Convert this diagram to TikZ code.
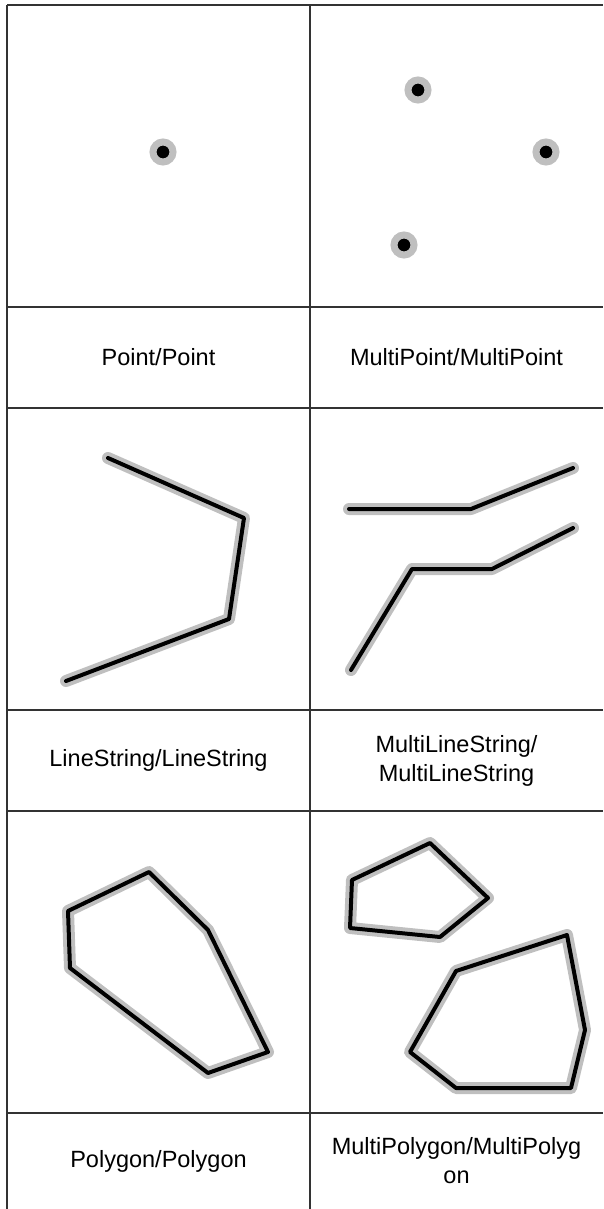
\documentclass[tikz,border=0pt]{standalone}
\usepackage{fontspec}
\setmainfont{Liberation Sans}
\usetikzlibrary{positioning}

\begin{document}
\begin{tikzpicture}[
  x=1pt, y=-1pt,
  every node/.style={font=\fontsize{23.5}{29}\selectfont},
  grid/.style={draw=black!80, line width=1.6pt},
  halo/.style={draw=black!25, line width=12pt, line cap=round, line join=round},
  geom/.style={draw=black, line width=4pt, line cap=round, line join=round},
  pt/.style={circle, fill=black, draw=black!25, line width=7pt, minimum size=20pt, inner sep=0pt},
  cell/.style={align=center, text width=300pt}
]
\useasboundingbox (0,0) rectangle (603,1209);

% table grid
\foreach \y in {5,307,408,710,811,1113}
  \draw[grid] (7,\y) -- (603,\y);
\foreach \x in {7,310}
  \draw[grid] (\x,5) -- (\x,1209);

% points
\node[pt] (point) at (163,152) {};
\node[pt] (mpointa) at (418,90) {};
\node[pt] (mpointb) at (546,152) {};
\node[pt] (mpointc) at (404,245) {};

% line strings and polygons: grey halo first, then the black line
\foreach \s in {halo,geom} {
  \draw[\s] (108,458) -- (244,518) -- (229,619) -- (66,681);
  \draw[\s] (349,509) -- (471,509) -- (573,468);
  \draw[\s] (351,670) -- (412,569) -- (492,569) -- (573,528);
  \draw[\s] (149,872) -- (208,930) -- (268,1052) -- (208,1073) -- (70,968) -- (68,911) -- cycle;
  \draw[\s] (352,880) -- (430,843) -- (488,898) -- (440,937) -- (350,928) -- cycle;
  \draw[\s] (456,971) -- (567,935) -- (585,1030) -- (571,1088) -- (456,1088) -- (410,1052) -- cycle;
}

% labels
\node[cell] (lpoint) at (158.5,357.5) {Point/Point};
\node[cell] (lmpoint) at (456.5,357.5) {MultiPoint/MultiPoint};
\node[cell] (lline) at (158.5,760.5) {LineString/LineString};
\node[cell] (lmline) at (456.5,760.5) {MultiLineString/\\MultiLineString};
\node[cell] (lpoly) at (158.5,1161) {Polygon/Polygon};
\node[cell] (lmpoly) at (456.5,1161) {MultiPolygon/MultiPolyg\\on};
\end{tikzpicture}
\end{document}
